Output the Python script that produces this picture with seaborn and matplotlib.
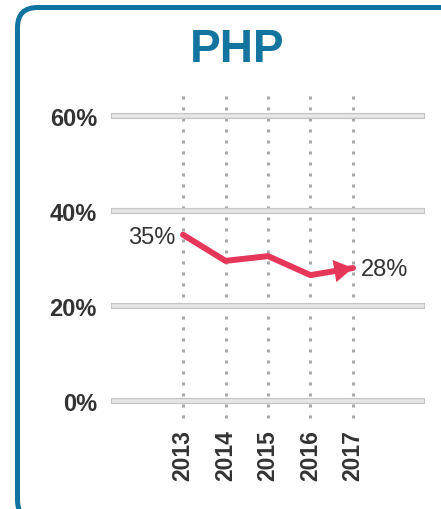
import matplotlib
matplotlib.use('Agg')
import matplotlib.pyplot as plt
import matplotlib.transforms as mtransforms
from matplotlib.patches import FancyBboxPatch
import pandas as pd
import seaborn as sns

years = ['2013', '2014', '2015', '2016', '2017']
share = [35.0, 29.5, 30.5, 26.5, 28.0]
y_ticks = [0, 20, 40, 60]
y_labels = ['0%', '20%', '40%', '60%']
title = 'PHP'

sns.set_theme(style='white')
plt.rcParams['font.family'] = ['Liberation Sans', 'DejaVu Sans']

line_color = '#e6365a'
text_color = '#333333'
blue = '#11739f'

df = pd.DataFrame({'pos': range(len(years)), 'year': years, 'share': share})

W, H = 441, 510
fig = plt.figure(figsize=(W / 100, H / 100), dpi=100)
ax = fig.add_axes([108 / W, (H - 422) / H, 320 / W, 332 / H])

# rounded frame, cut by the right and bottom edges of the picture
frame = FancyBboxPatch((17.5, -11), 520, H - 8.5 + 11,
                       boxstyle='round,pad=0,rounding_size=20',
                       transform=mtransforms.IdentityTransform(),
                       fill=False, ec=blue, lw=3.6)
fig.patches.append(frame)

ax.set_xlim(-1.765, 5.765)
ax.set_ylim(-4.21, 65.68)

# dotted year lines
ax.vlines(df['pos'], -3.6, 64.8, colors='#a8a8a8', lw=2.2,
          linestyles=[(0, (1, 2.6))], zorder=1)

# horizontal grid bars
ax.hlines(y_ticks, -1.694, 5.694, colors='#c4c4c4', lw=4.4, zorder=2)
ax.hlines(y_ticks, -1.67, 5.67, colors='#e6e6e6', lw=2.6, zorder=2)

sns.lineplot(data=df, x='pos', y='share', color=line_color, lw=4.3,
             ax=ax, zorder=3, solid_joinstyle='round')
ax.annotate('', xy=(4, share[-1]),
            xytext=(3.55, share[3] + 0.55 * (share[4] - share[3])),
            arrowprops=dict(arrowstyle='-|>,head_length=0.75,head_width=0.45',
                            color=line_color, lw=0, mutation_scale=18,
                            shrinkA=0, shrinkB=0),
            zorder=4)

ax.annotate('35%', xy=(0, share[0]), xytext=(-8, -2),
            textcoords='offset pixels', ha='right', va='center',
            fontsize=17, color=text_color)
ax.annotate('28%', xy=(4, share[-1]), xytext=(8, -1),
            textcoords='offset pixels', ha='left', va='center',
            fontsize=17, color=text_color)

ax.set_yticks(y_ticks)
ax.set_yticklabels(y_labels, fontsize=17, fontweight='bold', color=text_color)
ax.set_xticks(df['pos'])
ax.set_xticklabels(years, rotation=90, fontsize=16.5, fontweight='bold',
                   color=text_color)
ax.tick_params(axis='y', length=0, pad=8)
ax.tick_params(axis='x', length=0, pad=6)
ax.set_xlabel('')
ax.set_ylabel('')
for s in ax.spines.values():
    s.set_visible(False)
ax.patch.set_alpha(0)

fig.text(237 / W, (H - 50) / H, title, ha='center', va='center',
         fontsize=33, fontweight='bold', color='#1474a0')

fig.savefig('out.png', dpi=100)
